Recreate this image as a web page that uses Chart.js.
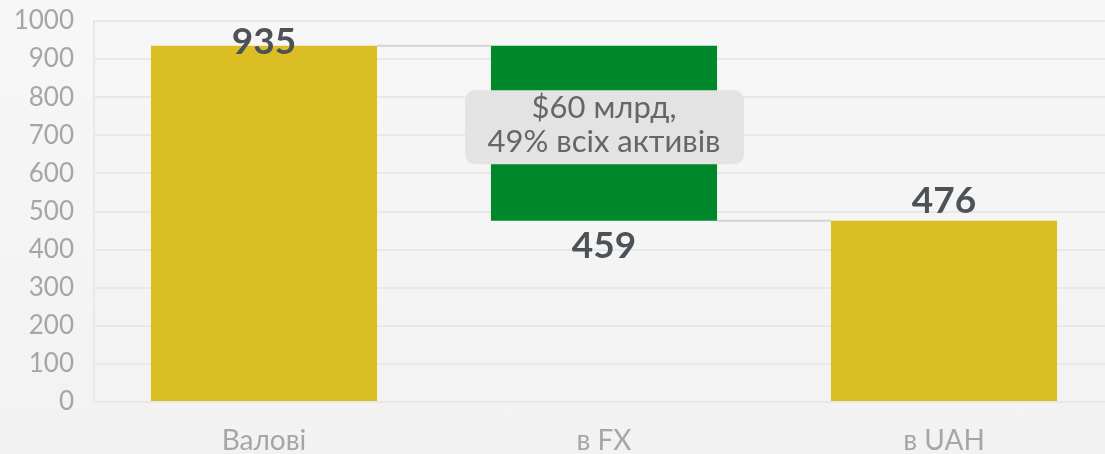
<!DOCTYPE html>
<html>
<head>
<meta charset="utf-8">
<script src="https://cdn.jsdelivr.net/npm/chart.js@4"></script>
<style>
  html, body { margin: 0; padding: 0; overflow: hidden; }
  body { width: 1105px; height: 454px; background: linear-gradient(#f7f7f7, #f2f2f2); }
  #wrap { position: relative; width: 1114px; height: 454px; }
</style>
</head>
<body>
<div id="wrap"><canvas id="waterfall"></canvas></div>
<script>
// data
var categories = ['Валові', 'в FX', 'в UAH'];
var gross = 935;
var fx = 459;
var uah = 476;
var barStarts = [0, uah, 0];
var barEnds = [gross, gross, uah];
var valueLabels = [gross, fx, uah];
var yTicks = [0, 100, 200, 300, 400, 500, 600, 700, 800, 900, 1000];
var noteLines = ['$60 млрд,', '49% всіх активів'];

var barColors = ['#dbbe23', '#00882b', '#dbbe23'];

// waterfall extras: connectors, value labels, note box
var extras = {
    id: 'extras',
    afterDatasetsDraw: function (chart) {
        var ctx = chart.ctx;
        var x = chart.scales.x, y = chart.scales.y;
        var meta = chart.getDatasetMeta(0);

        // connector lines
        ctx.save();
        ctx.strokeStyle = '#d3d3d3';
        ctx.lineWidth = 2;
        for (var i = 0; i < meta.data.length - 1; i++) {
            var a = meta.data[i], b = meta.data[i + 1];
            var level = (i === 0) ? barEnds[0] : barStarts[1];
            var yy = y.getPixelForValue(level);
            ctx.beginPath();
            ctx.moveTo(a.x + a.width / 2, yy);
            ctx.lineTo(b.x - b.width / 2, yy);
            ctx.stroke();
        }
        ctx.restore();

        // value labels
        ctx.save();
        ctx.fillStyle = '#4d5259';
        ctx.font = 'bold 37px Lato';
        ctx.textAlign = 'center';
        ctx.textBaseline = 'alphabetic';
        for (var j = 0; j < meta.data.length; j++) {
            var bar = meta.data[j];
            var ly;
            if (j === 1) {
                ly = y.getPixelForValue(barStarts[j]) + 37;
            } else if (j === 0) {
                ly = y.getPixelForValue(barEnds[j]) + 8;
            } else {
                ly = y.getPixelForValue(barEnds[j]) - 8;
            }
            ctx.fillText(String(valueLabels[j]), bar.x, ly);
        }
        ctx.restore();

        // note box on the FX bar
        var mid = meta.data[1];
        var bx = mid.x - 139, by = y.getPixelForValue(800) - 7, bw = 279, bh = 74;
        ctx.save();
        ctx.fillStyle = '#e3e3e3';
        ctx.beginPath();
        ctx.roundRect(bx, by, bw, bh, 10);
        ctx.fill();
        ctx.fillStyle = '#666666';
        ctx.font = '31px Lato';
        ctx.textAlign = 'center';
        ctx.textBaseline = 'middle';
        ctx.fillText(noteLines[0], mid.x, by + 18);
        ctx.fillText(noteLines[1], mid.x, by + 52);
        ctx.restore();
    }
};

document.addEventListener('DOMContentLoaded', function () {
    var ctx = document.getElementById('waterfall').getContext('2d');

    var data = [];
    for (var i = 0; i < categories.length; i++) {
        data.push([barStarts[i], barEnds[i]]);
    }

    new Chart(ctx, {
        type: 'bar',
        data: {
            labels: categories,
            datasets: [{
                data: data,
                backgroundColor: barColors,
                borderWidth: 0,
                borderSkipped: false,
                categoryPercentage: 1,
                barPercentage: 0.665
            }]
        },
        options: {
            responsive: true,
            maintainAspectRatio: false,
            animation: false,
            layout: { padding: { top: 21, right: 0, bottom: 0, left: 0 } },
            plugins: {
                legend: { display: false },
                tooltip: { enabled: false }
            },
            scales: {
                x: {
                    grid: { display: false },
                    border: { display: false },
                    ticks: {
                        color: '#a6a6a6',
                        font: { family: 'Lato', size: 28 },
                        padding: 14
                    },
                    afterFit: function (s) {
                        s.height = 52;
                        s.paddingLeft = 0;
                        s.paddingRight = 0;
                    }
                },
                y: {
                    min: 0,
                    max: 1000,
                    afterBuildTicks: function (s) {
                        s.ticks = yTicks.map(function (v) { return { value: v }; });
                    },
                    grid: { color: '#e8e8e8', lineWidth: 2, drawTicks: false },
                    border: { display: true, color: '#e8e8e8', width: 2 },
                    ticks: {
                        color: '#a6a6a6',
                        font: { family: 'Lato', size: 26 },
                        padding: 20,
                        callback: function (v) { return String(v); }
                    },
                    afterFit: function (s) {
                        s.width = 94;
                        s.paddingTop = 0;
                        s.paddingBottom = 0;
                    }
                }
            }
        },
        plugins: [extras]
    });
});
</script>
</body>
</html>
